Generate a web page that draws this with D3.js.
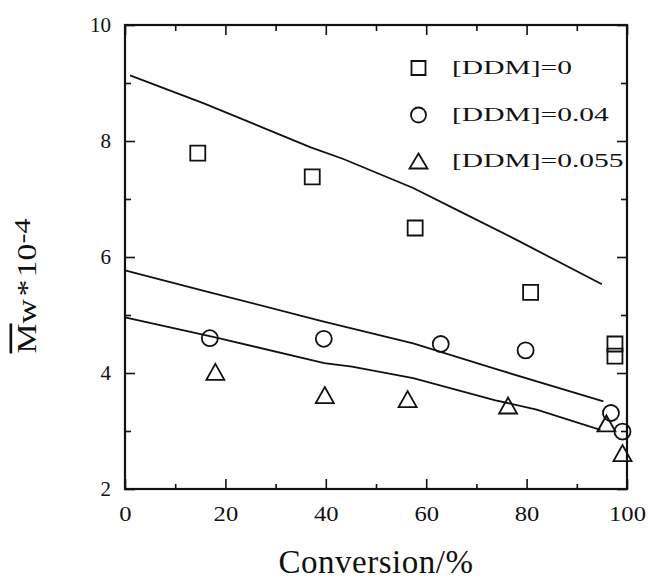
<!DOCTYPE html>
<html>
<head>
<meta charset="utf-8">
<script src="https://cdn.jsdelivr.net/npm/d3@7"></script>
<style>
  html, body { margin: 0; padding: 0; background: #fff; }
  svg { display: block; }
  text { font-family: "Liberation Serif", "Times New Roman", serif; fill: #111; }
</style>
</head>
<body>
<svg id="chart" width="648" height="581"></svg>
<script>
// ---------- data ----------
const seriesLabels = ["[DDM]=0", "[DDM]=0.04", "[DDM]=0.055"];

// measured points
const conv0 = [14.5, 37.3, 57.8, 80.8, 97.6, 97.6];
const mw0   = [7.79, 7.38, 6.50, 5.39, 4.50, 4.29];

const conv1 = [16.9, 39.6, 62.9, 79.8, 96.8, 99.1];
const mw1   = [4.60, 4.59, 4.50, 4.39, 3.31, 2.99];

const conv2 = [18.0, 39.8, 56.3, 76.3, 95.9, 99.1];
const mw2   = [4.02, 3.62, 3.55, 3.44, 3.13, 2.62];

// model curves
const curveConv0 = [1.0, 15.7, 37.0, 43.5, 57.4, 66.4, 77.9, 95.0];
const curveMw0   = [9.13, 8.65, 7.89, 7.69, 7.19, 6.80, 6.30, 5.53];

const curveConv1 = [0.0, 16.5, 39.4, 57.4, 73.8, 95.3];
const curveMw1   = [5.77, 5.40, 4.89, 4.51, 4.07, 3.51];

const curveConv2 = [0.0, 18.2, 39.7, 45.2, 57.4, 73.8, 82.0, 94.7];
const curveMw2   = [4.96, 4.61, 4.17, 4.11, 3.91, 3.53, 3.37, 3.02];

// ticks
const xMajorTicks = [0, 20, 40, 60, 80, 100];
const xMinorTicks = [10, 30, 50, 70, 90];
const yMajorTicks = [2, 4, 6, 8, 10];
const yMinorTicks = [3, 5, 7, 9];

const xTitle = "Conversion/%";

// ---------- layout ----------
const svg = d3.select("#chart");
const plotL = 125, plotR = 627, plotT = 25, plotB = 489;

const x = d3.scaleLinear().domain([0, 100]).range([plotL, plotR]);
const y = d3.scaleLinear().domain([2, 10]).range([plotB, plotT]);

const ink = "#111";

// ---------- axes ----------
function styleAxis(g) {
  g.select(".domain").remove();
  g.selectAll(".tick line").attr("stroke", ink).attr("stroke-width", 1.6);
}

// bottom
svg.append("g").attr("transform", `translate(0,${plotB})`)
  .call(d3.axisBottom(x).tickValues(xMajorTicks).tickSizeInner(-10).tickSizeOuter(0).tickPadding(16)
    .tickFormat(d3.format("d")))
  .call(styleAxis)
  .call(g => g.selectAll(".tick text")
    .attr("font-size", 22).attr("fill", ink)
    .attr("font-family", "Liberation Serif, serif")
    .attr("transform", "scale(1.12,1)"));
svg.append("g").attr("transform", `translate(0,${plotB})`)
  .call(d3.axisBottom(x).tickValues(xMinorTicks).tickSizeInner(-5).tickSizeOuter(0).tickFormat(""))
  .call(styleAxis);

// top
svg.append("g").attr("transform", `translate(0,${plotT})`)
  .call(d3.axisTop(x).tickValues(xMajorTicks).tickSizeInner(-10).tickSizeOuter(0).tickFormat(""))
  .call(styleAxis);
svg.append("g").attr("transform", `translate(0,${plotT})`)
  .call(d3.axisTop(x).tickValues(xMinorTicks).tickSizeInner(-6).tickSizeOuter(0).tickFormat(""))
  .call(styleAxis);

// left
svg.append("g").attr("transform", `translate(${plotL},0)`)
  .call(d3.axisLeft(y).tickValues(yMajorTicks).tickSizeInner(-10).tickSizeOuter(0).tickPadding(14)
    .tickFormat(d3.format("d")))
  .call(styleAxis)
  .call(g => g.selectAll(".tick text")
    .attr("font-size", 21).attr("fill", ink)
    .attr("font-family", "Liberation Serif, serif"));
svg.append("g").attr("transform", `translate(${plotL},0)`)
  .call(d3.axisLeft(y).tickValues(yMinorTicks).tickSizeInner(-6).tickSizeOuter(0).tickFormat(""))
  .call(styleAxis);

// right
svg.append("g").attr("transform", `translate(${plotR},0)`)
  .call(d3.axisRight(y).tickValues(yMajorTicks).tickSizeInner(-10).tickSizeOuter(0).tickFormat(""))
  .call(styleAxis);
svg.append("g").attr("transform", `translate(${plotR},0)`)
  .call(d3.axisRight(y).tickValues(yMinorTicks).tickSizeInner(-6).tickSizeOuter(0).tickFormat(""))
  .call(styleAxis);

// frame
svg.append("rect")
  .attr("x", x(0)).attr("y", y(10))
  .attr("width", x(100) - x(0)).attr("height", y(2) - y(10))
  .attr("fill", "none").attr("stroke", ink).attr("stroke-width", 2.2);

// ---------- model curves ----------
const lineGen = d3.line().x(d => x(d[0])).y(d => y(d[1]));
[[curveConv0, curveMw0], [curveConv1, curveMw1], [curveConv2, curveMw2]].forEach(([cx, cy]) => {
  svg.append("path")
    .datum(cx.map((v, i) => [v, cy[i]]))
    .attr("d", lineGen)
    .attr("fill", "none").attr("stroke", ink).attr("stroke-width", 1.8);
});

// ---------- markers ----------
function squarePath(px, py, s) {
  const p = d3.path();
  p.rect(px - s / 2, py - s / 2, s, s);
  return p.toString();
}
function circlePath(px, py, r) {
  const p = d3.path();
  p.moveTo(px + r, py);
  p.arc(px, py, r, 0, Math.PI * 2);
  p.closePath();
  return p.toString();
}
function trianglePath(px, py, w, h) {
  const p = d3.path();
  p.moveTo(px, py - h / 2);
  p.lineTo(px + w / 2, py + h / 2);
  p.lineTo(px - w / 2, py + h / 2);
  p.closePath();
  return p.toString();
}
const markerStyle = sel => sel.attr("fill", "none").attr("stroke", ink).attr("stroke-width", 1.8);

svg.append("g").selectAll("path")
  .data(conv0.map((v, i) => [v, mw0[i]]))
  .join("path")
  .attr("d", d => squarePath(x(d[0]), y(d[1]), 15))
  .call(markerStyle);

svg.append("g").selectAll("path")
  .data(conv1.map((v, i) => [v, mw1[i]]))
  .join("path")
  .attr("d", d => circlePath(x(d[0]), y(d[1]), 8))
  .call(markerStyle);

svg.append("g").selectAll("path")
  .data(conv2.map((v, i) => [v, mw2[i]]))
  .join("path")
  .attr("d", d => trianglePath(x(d[0]), y(d[1]), 18, 16))
  .call(markerStyle);

// ---------- legend ----------
const legendMarkerX = 418.5, legendTextX = 452;
const legendRowY = [68, 115, 161];
const legendMakers = [
  (px, py) => squarePath(px, py, 14),
  (px, py) => circlePath(px, py, 7.5),
  (px, py) => trianglePath(px, py, 18, 15)
];
seriesLabels.forEach((lab, i) => {
  svg.append("path").attr("d", legendMakers[i](legendMarkerX, legendRowY[i])).call(markerStyle);
  svg.append("text")
    .attr("transform", `translate(${legendTextX},${legendRowY[i] + 6}) scale(1.64,1)`)
    .attr("font-size", 18)
    .text(lab);
});

// ---------- axis titles ----------
svg.append("text")
  .attr("x", 376).attr("y", 573)
  .attr("text-anchor", "middle")
  .attr("font-size", 33)
  .attr("letter-spacing", 0.5)
  .text(xTitle);

const yt = svg.append("text")
  .attr("transform", "translate(36,286) rotate(-90) scale(1.25,1)")
  .attr("text-anchor", "middle")
  .attr("font-size", 27);
yt.append("tspan").attr("text-decoration", "overline").text("M");
yt.append("tspan").text("w");
yt.append("tspan").attr("dx", 2).text("*");
yt.append("tspan").attr("dx", 2).text("10");
yt.append("tspan").attr("baseline-shift", 6).attr("font-size", 24).text("-4");
</script>
</body>
</html>
